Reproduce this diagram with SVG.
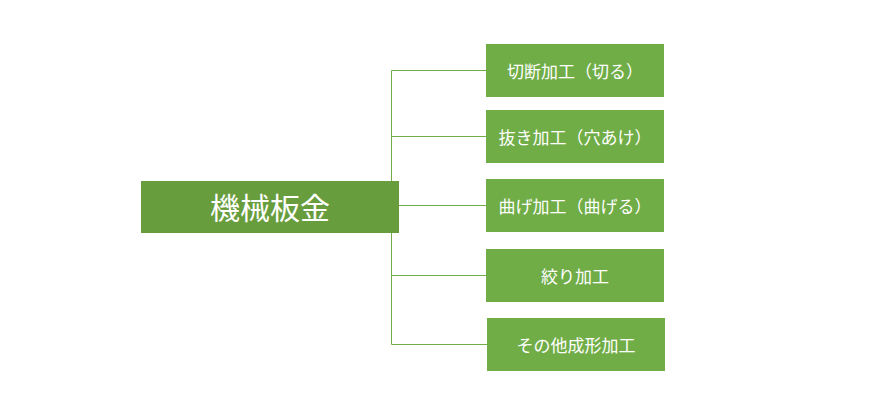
<svg xmlns="http://www.w3.org/2000/svg" width="892" height="413" viewBox="0 0 892 413">
<style>
.n{fill:#70AD47}
.t{fill:#fff;font-family:"Noto Sans CJK JP","Noto Sans",sans-serif;font-size:17px;text-anchor:middle;dominant-baseline:central}
.c{stroke:#70AD47;stroke-width:1;fill:none}
</style>
<rect width="892" height="413" fill="#fff"/>
<g id="connectors">
<path class="c" d="M391.5 70.5V344.5M391.5 70.5H486M391.5 136.5H486M399 205.5H486M391.5 275.5H486M391.5 344.5H487"/>
</g>
<g id="main"><rect x="141" y="181" width="258" height="52" fill="#689D3E"/><text class="t" x="270" y="206" style="font-size:30px">機械板金</text></g>
<g id="n1"><rect class="n" x="486" y="44" width="178" height="53"/><text class="t" x="575" y="70">切断加工（切る）</text></g>
<g id="n2"><rect class="n" x="486" y="110" width="178" height="53"/><text class="t" x="575" y="136">抜き加工（穴あけ）</text></g>
<g id="n3"><rect class="n" x="486" y="179" width="178" height="53"/><text class="t" x="575" y="205">曲げ加工（曲げる）</text></g>
<g id="n4"><rect class="n" x="486" y="249" width="178" height="53"/><text class="t" x="575" y="275">絞り加工</text></g>
<g id="n5"><rect class="n" x="487" y="318" width="178" height="53"/><text class="t" x="576" y="344">その他成形加工</text></g>
</svg>
